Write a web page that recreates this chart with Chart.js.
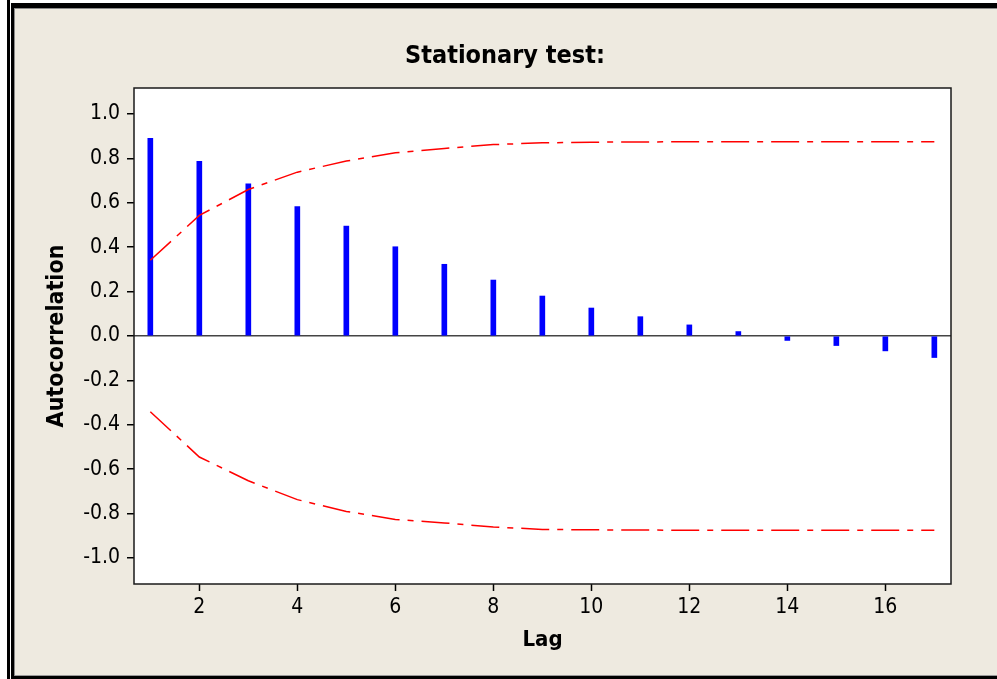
<!DOCTYPE html>
<html>
<head>
<meta charset="utf-8">
<title>Stationary test</title>
<script src="https://cdn.jsdelivr.net/npm/chart.js@4/dist/chart.umd.min.js"></script>
<style>
  body { margin: 0; background: #ffffff; }
  #wrap { position: relative; width: 997px; height: 679px; overflow: hidden; }
  #lineaExterior { position: absolute; left: 7px; top: 0; width: 3px; height: 679px; background: #000; }
  #marco {
    position: absolute; left: 11px; top: 3px; width: 986px; height: 676px;
    box-sizing: border-box; background: #eeeae0;
    border-left: 3px solid #000; border-top: 5px solid #000; border-bottom: 3px solid #000;
    box-shadow: inset 1px 1px 0 #8a8a8a, inset 0 -1px 0 #9a9a9a;
  }
  #grafica { position: absolute; left: 0; top: 0; }
</style>
</head>
<body>
<div id="wrap">
  <div id="lineaExterior"></div>
  <div id="marco"></div>
  <canvas id="grafica" width="997" height="679"></canvas>
</div>
<script>
const lags = [1, 2, 3, 4, 5, 6, 7, 8, 9, 10, 11, 12, 13, 14, 15, 16, 17];
const autocorrelation = [0.89, 0.787, 0.685, 0.583, 0.495, 0.402, 0.323, 0.252, 0.18, 0.126, 0.087, 0.05, 0.02, -0.02, -0.043, -0.067, -0.097];
const upperLimit = [0.341, 0.543, 0.66, 0.738, 0.788, 0.825, 0.845, 0.862, 0.87, 0.873, 0.874, 0.875, 0.875, 0.875, 0.875, 0.875, 0.875];
const lowerLimit = [-0.341, -0.545, -0.652, -0.737, -0.79, -0.826, -0.842, -0.86, -0.871, -0.873, -0.874, -0.875, -0.875, -0.875, -0.875, -0.875, -0.875];
const xTicks = [2, 4, 6, 8, 10, 12, 14, 16];
const yTicks = [-1.0, -0.8, -0.6, -0.4, -0.2, 0.0, 0.2, 0.4, 0.6, 0.8, 1.0];

document.addEventListener('DOMContentLoaded', function() {
    const fuente = "'DejaVu Sans Condensed', 'DejaVu Sans', sans-serif";
    const ctx = document.getElementById('grafica').getContext('2d');

    function puntos(valores) {
        return lags.map((lag, i) => ({ x: lag, y: valores[i] }));
    }

    // white plot area + frame around it, title on top
    const areaPlugin = {
        id: 'areaPlugin',
        beforeDraw(chart) {
            const a = chart.chartArea;
            chart.ctx.save();
            chart.ctx.fillStyle = '#ffffff';
            chart.ctx.fillRect(a.left, a.top, a.right - a.left, a.bottom - a.top);
            chart.ctx.restore();
        },
        afterDraw(chart) {
            const a = chart.chartArea;
            const c = chart.ctx;
            c.save();
            c.strokeStyle = '#1a1a1a';
            c.lineWidth = 1.5;
            c.strokeRect(a.left, a.top, a.right - a.left, a.bottom - a.top);
            c.fillStyle = '#000000';
            c.font = 'bold 25px ' + fuente;
            c.textAlign = 'center';
            c.textBaseline = 'middle';
            c.fillText('Stationary test:', 505, 56);
            c.restore();
        }
    };

    new Chart(ctx, {
        type: 'bar',
        data: {
            datasets: [{
                type: 'bar',
                data: puntos(autocorrelation),
                backgroundColor: '#0000ff',
                borderWidth: 0,
                barThickness: 5,
                order: 2
            }, {
                type: 'line',
                data: puntos(upperLimit),
                borderColor: '#ff0000',
                borderWidth: 1.5,
                borderDash: [28, 8, 6, 8],
                pointRadius: 0,
                tension: 0,
                fill: false,
                order: 1
            }, {
                type: 'line',
                data: puntos(lowerLimit),
                borderColor: '#ff0000',
                borderWidth: 1.5,
                borderDash: [28, 8, 6, 8],
                pointRadius: 0,
                tension: 0,
                fill: false,
                order: 1
            }]
        },
        options: {
            responsive: false,
            animation: false,
            layout: { padding: { top: 88, right: 46, bottom: 0, left: 0 } },
            plugins: {
                legend: { display: false },
                tooltip: { enabled: false },
                title: { display: false }
            },
            scales: {
                x: {
                    type: 'linear',
                    offset: false,
                    min: 0.667,
                    max: 17.34,
                    afterBuildTicks: function(scale) {
                        scale.ticks = xTicks.map(v => ({ value: v }));
                    },
                    afterFit: function(scale) {
                        scale.height = 95;
                    },
                    grid: { offset: false, drawOnChartArea: false, drawTicks: true, tickLength: 7, tickColor: '#000', tickWidth: 1.5 },
                    border: { display: false },
                    ticks: {
                        padding: 4,
                        color: '#000',
                        maxRotation: 0,
                        font: { family: fuente, size: 21 },
                        callback: v => String(v)
                    },
                    title: {
                        display: true,
                        text: 'Lag',
                        color: '#000',
                        font: { family: fuente, size: 22, weight: 'bold' },
                        padding: { top: 0, bottom: 26 }
                    }
                },
                y: {
                    min: -1.117,
                    max: 1.117,
                    afterBuildTicks: function(scale) {
                        scale.ticks = yTicks.map(v => ({ value: v }));
                    },
                    afterFit: function(scale) {
                        scale.width = 134;
                    },
                    grid: {
                        drawOnChartArea: true,
                        drawTicks: true,
                        tickLength: 7,
                        tickColor: '#000',
                        tickWidth: 1.5,
                        color: c => (c.tick && c.tick.value === 0 ? '#444444' : 'rgba(0,0,0,0)'),
                        lineWidth: 1.5
                    },
                    border: { display: false },
                    ticks: {
                        padding: 7,
                        color: '#000',
                        font: { family: fuente, size: 21 },
                        callback: v => Number(v).toFixed(1)
                    },
                    title: {
                        display: true,
                        text: 'Autocorrelation',
                        color: '#000',
                        font: { family: fuente, size: 23, weight: 'bold' },
                        padding: { top: 43, bottom: 0 }
                    }
                }
            }
        },
        plugins: [areaPlugin]
    });
});
</script>
</body>
</html>
